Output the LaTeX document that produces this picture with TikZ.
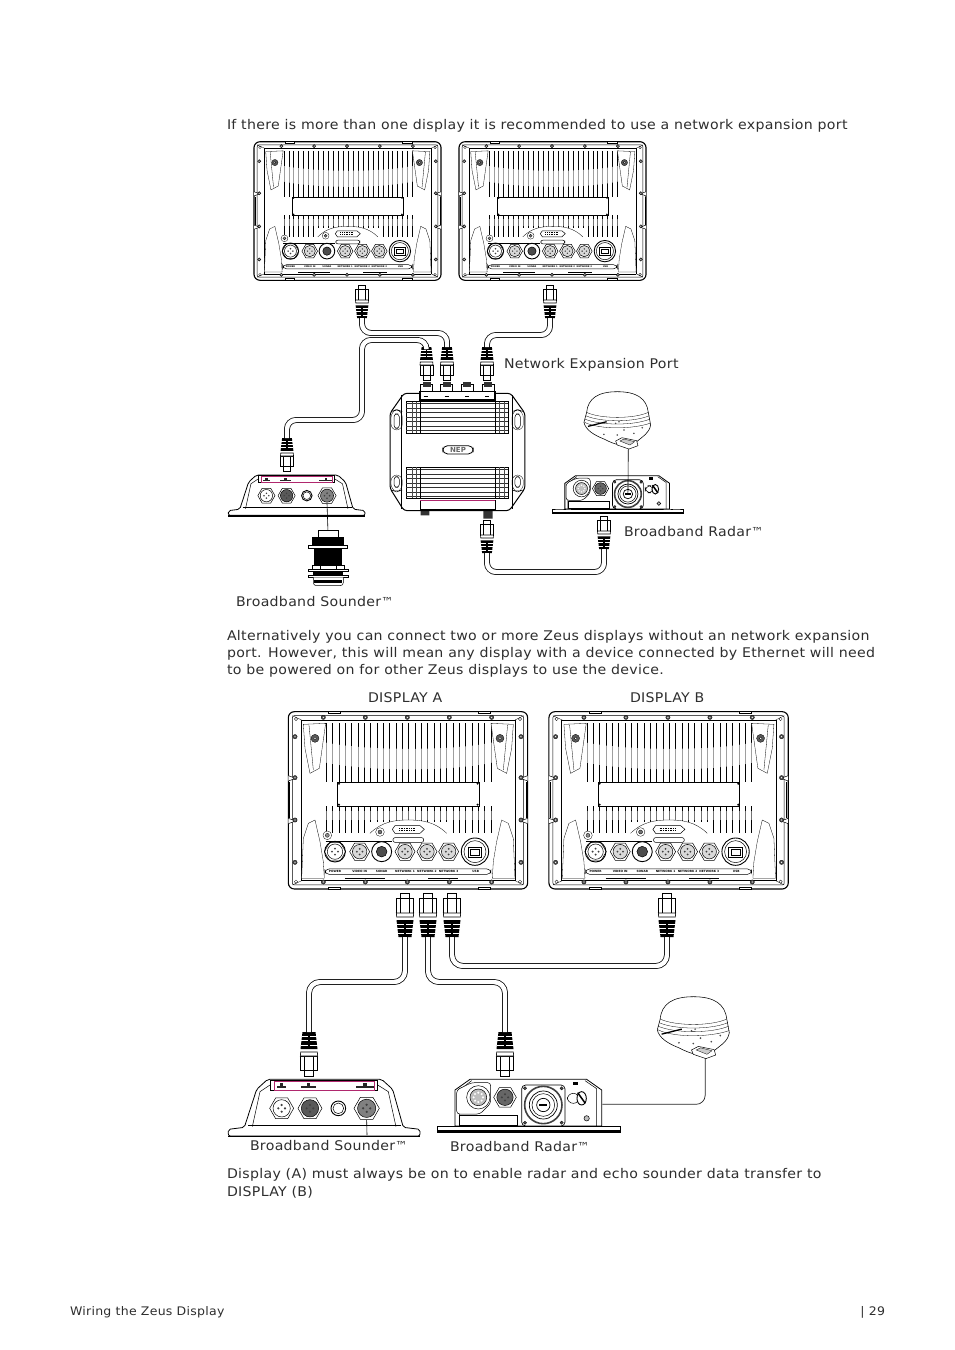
\documentclass[tikz,border=0pt]{standalone}
\usepackage{fontspec}
\setmainfont[FakeStretch=1.06,LetterSpace=2.3]{DejaVu Sans}
\newfontfamily\plainf{DejaVu Sans}
\definecolor{ink}{gray}{0.18}
\definecolor{pinkline}{RGB}{176,40,110}
\tikzset{
  x=1pt,y=-1pt,
  body/.style={font=\fontsize{13.33}{15}\selectfont,text=ink,anchor=base west,inner sep=0pt,outer sep=0pt},
  foot/.style={font=\fontsize{11.8}{14}\selectfont,text=ink,anchor=base west,inner sep=0pt,outer sep=0pt},
  tinyl/.style={inner sep=0pt,outer sep=0pt,text=black,font=\plainf\fontsize{2.9}{4}\selectfont\bfseries},
  cable/.style={line width=0.75pt,double=white,double distance=4.4pt,rounded corners=9pt},
  wire/.style={line width=0.7pt,rounded corners=9pt,draw=black!85},
  thinl/.style={line width=0.3pt},
  medl/.style={line width=0.5pt},
}
\newcommand{\tm}{{\plainf\fontsize{12.4}{14}\selectfont ™}}
% hex connector
\newcommand{\hexconn}[4]{% x,y,r,dark
  \draw[medl,fill=white] plot[samples at={0,60,...,300}] ({#1+#3*cos(\x)},{#2+#3*sin(\x)}) -- cycle;
  \draw[medl,fill=#4] (#1,#2) circle (0.72*#3);
  \fill[black!75] (#1-0.28*#3,#2) circle (0.1*#3) (#1+0.28*#3,#2) circle (0.1*#3) (#1,#2-0.28*#3) circle (0.1*#3) (#1,#2+0.28*#3) circle (0.1*#3);
}
\newcommand{\bolt}[2]{\draw[thinl,fill=black!70] (#1,#2) circle (6.5);\fill[white] (#1,#2) circle (2);}
% display: name, x, y, scale, fin width
\newcommand{\displayunit}[5]{%
\begin{scope}[shift={(#2,#3)},x=#4pt,y=-#4pt]
 \draw[line width=1.1pt,fill=white,rounded corners=6pt] (10,20) rectangle (728,552);
 \draw[medl,rounded corners=2pt] (22,32) rectangle (716,540);
 \draw[medl] (50,45) -- (690,45) (50,527) -- (690,527) (48,45) -- (48,527) (692,45) -- (692,527);
 \foreach \a/\b in {22/50,716/690}{\draw[thinl] (\a,32) -- (\b,45) (\a,540) -- (\b,527);}
 % tabs
 \foreach \a in {130,580}{\draw[medl,fill=white] (\a,20) rectangle (\a+36,26) (\a,546) rectangle (\a+36,552);}
 \foreach \b in {212,340}{\draw[medl,fill=white] (10,\b) -- (32,\b+8) -- (10,\b+16) (728,\b) -- (706,\b+8) -- (728,\b+16);}
 \draw[line width=0.9pt] (14,232) -- (14,340) (724,232) -- (724,340);
 % fins
 \foreach \fx in {125,144,...,620}{
   \draw[line width=#5pt] (\fx,55) -- (\fx,232);
   \pgfmathsetmacro{\fy}{abs(\fx-370)<118 ? 352 : 385}
   \draw[line width=#5pt] (\fx,303) -- (\fx,\fy);
 }
 \fill[white,opacity=0.62] (118,112) .. controls (250,138) and (500,138) .. (625,112) -- (625,172) .. controls (500,200) and (250,200) .. (118,172) -- cycle;
 \fill[white,opacity=0.45] (118,318) rectangle (625,345);
 % corner panels
 \draw[thinl,fill=white] (55,58) -- (122,55) -- (103,190) -- (75,205) -- (60,130) -- cycle;
 \draw[thinl,fill=white] (685,58) -- (618,55) -- (637,190) -- (665,205) -- (680,130) -- cycle;
 \draw[thinl,fill=white] (50,520) -- (55,400) -- (70,355) -- (90,345) -- (105,410) -- (115,470) -- (118,520) -- cycle;
 \draw[thinl,fill=white] (690,520) -- (685,400) -- (670,355) -- (650,345) -- (635,410) -- (625,470) -- (622,520) -- cycle;
 \draw[thinl] (72,60) -- (85,195) (668,60) -- (655,195);
 \foreach \cx/\cy in {90/100,645/100}{\draw[thinl,fill=black!65] (\cx,\cy) circle (12);\draw[thinl,fill=white] (\cx,\cy) circle (4);}
 % centre plate
 \draw[medl,fill=white] (158,232) rectangle (582,303);
 \foreach \cx/\cy in {162/236,578/236,162/299,578/299}{\fill[black] (\cx,\cy) circle (3.5);}
 % arch
 \fill[white] (255,385) .. controls (290,350) and (330,345) .. (370,345) .. controls (410,345) and (450,350) .. (485,385) -- cycle;
 \draw[thinl] (255,385) .. controls (290,350) and (330,345) .. (370,345) .. controls (410,345) and (450,350) .. (485,385);
 % dvi
 \draw[medl,fill=white] (330,362) -- (405,362) -- (418,373) -- (405,385) -- (330,385) -- (322,373) -- cycle;
 \draw[densely dotted,line width=0.7pt] (342,369) -- (392,369) (342,377) -- (392,377);
 \draw[medl,fill=white,rounded corners=2pt] (324,398) rectangle (416,412);
 % ground studs
 \draw[thinl,fill=white] (127,391) circle (13); \draw[thinl,fill=black!45] (127,391) circle (6);
 \draw[thinl,fill=white] (285,381) circle (13); \draw[thinl,fill=black!55] (285,381) circle (6);
 \draw[line width=0.9pt] (122,410) -- (320,410);
 \draw[line width=0.9pt] (180,520) -- (300,520) (430,520) -- (520,520);
 \hexconn{150}{440}{32}{white}
 \draw[line width=0.9pt] (150,440) circle (31);
 \hexconn{224}{440}{30}{black!15}
 \draw[line width=0.9pt,fill=white] (290,440) circle (30);
 \draw[medl,fill=black!70] (290,440) circle (16);
 \hexconn{360}{440}{30}{black!15}
 \hexconn{426}{440}{30}{black!15}
 \hexconn{491}{440}{30}{black!15}
 \draw[line width=0.9pt,fill=white] (570,440) circle (41);
 \draw[medl] (570,440) circle (33);
 \draw[line width=0.9pt,fill=white] (550,426) rectangle (590,456);
 \draw[medl] (556,432) rectangle (584,450);
 % label bar
 \draw[medl,rounded corners=4pt] (120,492) rectangle (618,508);
 \foreach \lx/\lt/\ln in {150/POWER/a,224/VIDEO IN/b,290/SONAR/c,360/NETWORK 1/d,426/NETWORK 2/e,491/NETWORK 3/f,572/USB/g}{
   \node[tinyl,scale=#4*3] (#1-\ln) at (\lx,500) {\lt};}
 % screws
 \foreach \sx in {115,241,367,493,620}{\bolt{\sx}{37}\bolt{\sx}{531}}
 \foreach \sy in {95,218,345,472}{\bolt{30}{\sy}\bolt{708}{\sy}}
 \foreach \cx/\cy in {33/42,705/42,33/530,705/530}{\draw[thinl] (\cx,\cy) circle (5);}
\end{scope}}
% plug: name,x,y (tip), sx, sy (negative: cable goes down)
\newcommand{\plug}[5]{%
\begin{scope}[shift={(#2,#3)},x=#4pt,y=#5pt]
 \draw[medl,fill=white] (-4.7,0) rectangle (4.7,5.7);
 \draw[line width=0.6pt,fill=white] (-8.7,5.7) rectangle (8.7,20);
 \draw[thinl] (-4.6,5.7) -- (-4.6,20) (4.6,5.7) -- (4.6,20);
 \draw[line width=0.6pt,fill=white] (-8.7,20) -- (8.7,20) -- (8.3,24) -- (-8.3,24) -- cycle;
 \fill[black] (-8.5,27) -- (8.5,27) -- (6.5,44) -- (-6.5,44) -- cycle;
 \draw[white,line width=0.7pt] (-8.5,31) -- (-1,31) (1,31) -- (8.5,31) (-8,35.5) -- (-1,35.5) (1,35.5) -- (8,35.5) (-7.5,40) -- (-1,40) (1,40) -- (7.5,40);
 \coordinate (#1) at (0,44);
\end{scope}}
% network expansion port
\newcommand{\nepunit}[3]{%
\begin{scope}[shift={(#2,#3)},x=0.3333pt,y=-0.3333pt]
 \foreach \px in {140,200,262,325}{\draw[line width=0.8pt,fill=white] (\px-18,312) rectangle (\px+18,334);\fill[black!80] (\px-12,307) rectangle (\px+12,322);}
 \fill[black!80] (122,690) rectangle (148,706) (310,690) rectangle (338,716);
 \draw[line width=1pt,fill=white,rounded corners=3pt] (30,400) -- (72,340) -- (392,340) -- (435,400) -- (435,625) -- (388,692) -- (72,692) -- (30,625) -- cycle;
 \draw[medl] (65,345) -- (65,688) (398,345) -- (398,688);
 \draw[line width=1.1pt,fill=white] (120,334) rectangle (345,360);
 \draw[medl,fill=white] (120,662) rectangle (345,688);
 \foreach \px in {137,200,262,322}{\draw[line width=0.6pt] (\px-6,350) -- (\px+6,350);}
 \foreach \py/\pz in {365/460,562/655}{
   \draw[line width=0.7pt] (78,\py) rectangle (385,\pz);
   \foreach \q in {0,1,...,6}{\draw[line width=0.55pt,black!80] (78,\py+6+\q*13.5) -- (385,\py+6+\q*13.5);}
   \draw[line width=0.9pt] (122,\py) -- (122,\pz) (345,\py) -- (345,\pz);
   \draw[line width=0.2pt,black!70] (95,\py) -- (95,\pz) (108,\py) -- (108,\pz) (358,\py) -- (358,\pz) (372,\py) -- (372,\pz);
   \draw[line width=1.2pt] (122,\py) -- (345,\py);
 }
 \draw[pinkline,line width=0.8pt] (120,660) -- (345,660);
 \draw[line width=0.8pt,fill=white,rounded corners=5pt] (188,497) rectangle (280,522);
 \node[inner sep=0pt,font=\plainf\fontsize{7}{8}\selectfont\bfseries,text=black!60] (#1-nep) at (234,510) {NEP};
 \foreach \ox in {50,413}{\draw[medl,fill=white,rounded corners=3pt] (\ox-8,402) rectangle (\ox+8,445) (\ox-8,590) rectangle (\ox+8,622);
   \draw[thinl,rounded corners=6pt] (\ox-17,395) -- (\ox,388) -- (\ox+17,395) -- (\ox+17,450) -- (\ox-17,450) -- cycle;
   \draw[thinl,rounded corners=6pt] (\ox-17,585) -- (\ox+17,585) -- (\ox+17,630) -- (\ox,636) -- (\ox-17,630) -- cycle;}
\end{scope}}
% dome
\newcommand{\domeunit}[4]{%
\begin{scope}[shift={(#2,#3)},x=#4pt,y=-#4pt]
 \draw[line width=0.55pt,fill=white] (-92,62) .. controls (-88,20) and (-58,0) .. (0,0) .. controls (58,0) and (88,20) .. (93,62) -- (100,100) .. controls (96,125) and (75,135) .. (58,150) .. controls (30,172) and (-5,160) .. (-40,142) .. controls (-70,130) and (-95,115) .. (-100,92) -- cycle;
 \draw[thinl] (-92,62) .. controls (-50,82) and (50,82) .. (93,62);
 \draw[thinl] (-95,72) .. controls (-50,92) and (50,92) .. (96,72);
 \draw[thinl] (-98,82) .. controls (-50,102) and (50,102) .. (98,82);
 \draw[thinl] (-98,92) .. controls (-50,115) and (50,112) .. (100,94);
 \draw[line width=1.3pt] (-88,104) -- (-32,90);
 \foreach \dx/\dy in {-5/95,20/115,0/130,50/125,-40/128,75/108,5/90}{\fill[black!70] (\dx,\dy) circle (2.6);}
 \draw[medl,fill=white] (-5,148) -- (14,138) -- (58,147) -- (62,162) -- (35,172) -- (0,160) -- cycle;
 \draw[thinl,fill=black!20] (8,148) -- (20,142) -- (52,150) -- (38,160) -- cycle;
 \coordinate (#1) at (33,172);
\end{scope}}
% radar interface
\newcommand{\radarbox}[4]{%
\begin{scope}[shift={(#2,#3)},x=#4pt,y=-#4pt]
 \draw[line width=0.8pt,fill=white] (75,408) -- (75,300) -- (120,268) -- (470,268) -- (515,300) -- (515,408) -- cycle;
 \draw[medl] (88,408) -- (88,300) (500,408) -- (500,296) -- (465,272) (125,272) -- (88,300);
 \draw[medl,fill=white,rounded corners=3pt] (80,372) -- (80,300) -- (125,278) -- (182,278) -- (182,340) -- (150,372) -- cycle;
 \draw[medl,fill=white] (145,322) circle (35);
 \draw[medl,fill=black!25] (145,322) circle (25);
 \foreach \a in {0,45,...,315}{\fill[white] (145,322) ++(\a:14) circle (3.5);}
 \hexconn{225}{322}{34}{black!60}
 \draw[medl,fill=white] (88,375) rectangle (262,405);
 \draw[line width=0.7pt,fill=white,rounded corners=4pt] (275,285) rectangle (405,408);
 \foreach \cx/\cy in {285/295,395/295,285/398,395/398}{\draw[thinl,fill=black!70] (\cx,\cy) circle (5);}
 \draw[line width=1.6pt,black!75,fill=white] (340,345) circle (56);
 \draw[line width=0.7pt,fill=white] (340,345) circle (42);
 \draw[medl] (340,345) circle (34);
 \draw[line width=0.7pt,fill=white] (340,345) circle (20);
 \draw[line width=1.2pt] (328,345) -- (352,345);
 \draw[medl,fill=white,rounded corners=6pt] (412,310) rectangle (448,340);
 \draw[line width=0.9pt,fill=white] (455,325) ellipse (14 and 20);
 \draw[line width=1.5pt] (443,308) -- (466,340);
 \draw[medl,fill=black!25] (470,385) circle (8);
 \fill[black] (428,275) rectangle (445,285);
 \draw[line width=1pt,fill=white] (22,408) -- (572,408) -- (572,428) -- (22,428) -- cycle;
 \fill[black] (22,420) -- (572,420) -- (572,428) -- (22,428) -- cycle;
 \fill[white] (35,411) rectangle (70,418) (80,411) rectangle (100,418) (490,411) rectangle (520,418) (530,411) rectangle (560,418);
 \coordinate (#1-top) at (340,345);
 \coordinate (#1-side) at (517,343);
\end{scope}}
% sounder
\newcommand{\sounderunit}[4]{%
\begin{scope}[shift={(#2,#3)},x=#4pt,y=-#4pt]
 \draw[line width=0.8pt,fill=white,rounded corners=2pt] (10,318) -- (10,298) -- (58,292) -- (95,178) -- (128,148) -- (470,148) -- (503,178) -- (535,292) -- (585,298) -- (585,318) -- cycle;
 \draw[medl] (82,290) -- (105,185) -- (135,165) (513,290) -- (490,185) -- (458,165);
 \draw[line width=1.3pt] (10,320) -- (585,320);
 \draw[line width=0.7pt] (70,285) -- (528,285);
 \draw[line width=0.8pt,fill=white] (135,150) rectangle (458,180);
 \draw[pinkline,line width=0.8pt] (148,153) rectangle (448,180);
 \foreach \tx/\tw in {170/14,250/22,420/28}{\fill[black!85] (\tx-\tw,167) rectangle (\tx+\tw,175);\fill[black!85] (\tx-5,160) rectangle (\tx+5,167);}
 \hexconn{170}{235}{36}{white}
 \hexconn{255}{235}{36}{black!65}
 \draw[line width=0.9pt,fill=white] (340,235) circle (22);
 \draw[medl] (340,235) circle (16);
 \hexconn{425}{235}{38}{black!50}
 \coordinate (#1-port) at (425,270);
\end{scope}}
\begin{document}
\begin{tikzpicture}
\useasboundingbox (0,0) rectangle (954,1350);
\fill[white] (0,0) rectangle (954,1350);
% texts
\node[body] (t1) at (227,129) {If there is more than one display it is recommended to use a network expansion port};
\node[body] (lnep) at (504,368) {Network Expansion Port};
\node[body] (lrad1) at (624,536) {Broadband Radar\tm};
\node[body] (lsnd1) at (236,606) {Broadband Sounder\tm};
\node[body] (t2) at (227,640) {Alternatively you can connect two or more Zeus displays without an network expansion};
\node[body] (t3) at (227,657) {port. However, this will mean any display with a device connected by Ethernet will need};
\node[body] (t4) at (227,674) {to be powered on for other Zeus displays to use the device.};
\node[body] (da) at (368,702) {DISPLAY A};
\node[body] (db) at (630,702) {DISPLAY B};
\node[body] (lsnd2) at (250,1150) {Broadband Sounder\tm};
\node[body] (lrad2) at (450,1151) {Broadband Radar\tm};
\node[body] (t5) at (227,1178) {Display (A) must always be on to enable radar and echo sounder data transfer to};
\node[body] (t6) at (227,1196) {DISPLAY (B)};
\node[foot] (f1) at (70,1315) {Wiring the Zeus Display};
\node[foot,anchor=base east] (f2) at (885,1315) {| 29};
% top section
\displayunit{d1}{251.4}{136.5}{0.2605}{0.75}
\displayunit{d2}{456.4}{136.5}{0.2605}{0.75}
\plug{pA}{362}{285}{0.75}{-0.75}
\plug{pC}{550}{285}{0.75}{-0.75}
\plug{pA2}{447}{380}{0.75}{0.75}
\plug{pB2}{426.5}{380}{0.75}{0.75}
\plug{pC2}{487}{380}{0.75}{0.75}
\plug{pS}{287}{471}{0.75}{0.75}
\plug{pN}{487}{520}{0.75}{-0.75}
\plug{pR}{604}{516}{0.75}{-0.75}
\nepunit{nep1}{380}{280}
\sounderunit{snd1}{226}{439.8}{0.2377}
\radarbox{rb1}{547}{411.9}{0.238}
\domeunit{dome1}{617.3}{391.7}{0.3333}
\draw[cable] (pA) -- ++(0,15) -| (pA2);
\draw[cable] (pB2) -- ++(0,-7) -| (362,420) -| (pS);
\draw[cable] (pC) -- ++(0,17) -| (pC2);
\draw[cable] (pN) -- ++(0,19) -| (pR);
\draw[line width=0.6pt] (dome1) -- (rb1-top);
% transducer
\coordinate (tdcr) at (328,532);
\draw[line width=0.6pt] (snd1-port) -- (tdcr);
\begin{scope}[shift={(225,420)},x=0.3333pt,y=-0.3333pt]
 \draw[medl,fill=white] (280,330) rectangle (340,352);
 \fill[black] (262,350) rectangle (358,375);
 \draw[medl,fill=white] (250,375) rectangle (368,385);
 \fill[black] (268,385) rectangle (352,437);
 \draw[medl,fill=white] (262,437) rectangle (358,448);
 \draw[medl] (285,437) -- (285,448) (335,437) -- (335,448);
 \draw[medl,fill=white] (250,448) rectangle (370,455);
 \fill[black] (265,455) rectangle (355,465);
 \draw[medl,fill=white] (250,465) rectangle (370,472);
 \draw[medl,fill=white,rounded corners=3pt] (265,472) -- (265,497) -- (355,497) -- (355,472);
 \fill[black] (268,480) rectangle (352,490);
\end{scope}
% bottom section
\displayunit{d3}{285}{705}{0.3333}{1.0}
\displayunit{d4}{545.6}{705}{0.3333}{1.0}
\plug{qA}{405}{893}{1}{-1}
\plug{qB}{428}{893}{1}{-1}
\plug{qC}{452}{893}{1}{-1}
\plug{qD}{667}{893}{1}{-1}
\plug{qS}{309}{1076}{1}{1}
\plug{qR}{505}{1076}{1}{1}
\sounderunit{snd2}{225}{1030}{0.3333}
\radarbox{rb2}{430}{990}{0.3333}
\domeunit{dome2}{693.3}{996.7}{0.36}
\draw[cable,rounded corners=11pt] (qC) -- ++(0,29) -| (qD);
\draw[cable,rounded corners=11pt] (qA) -- ++(0,45) -| (qS);
\draw[cable,rounded corners=11pt] (qB) -- ++(0,45) -| (qR);
\draw[wire] (dome2) |- (rb2-side);
\draw[line width=0.6pt] (snd2-port) -- (367,1135);
\end{tikzpicture}
\end{document}
